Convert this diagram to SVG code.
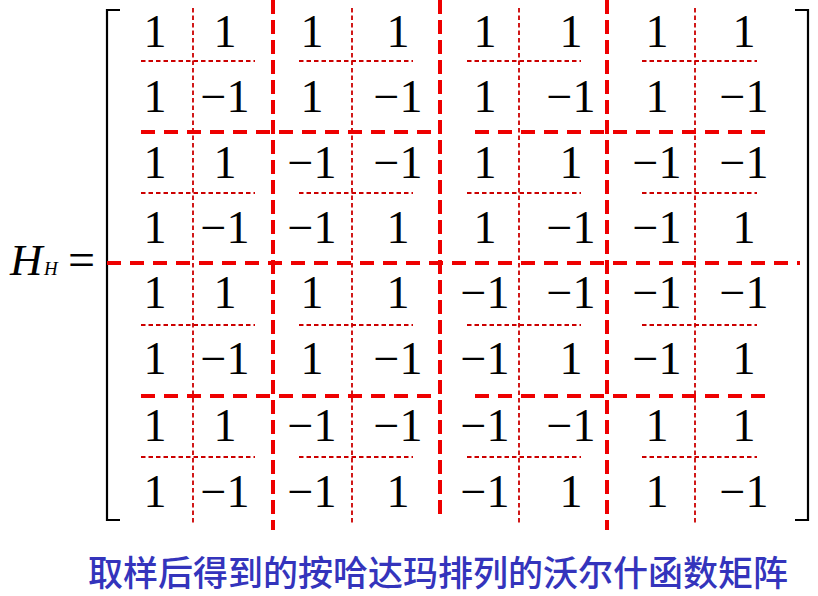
<svg xmlns="http://www.w3.org/2000/svg" width="818" height="596" viewBox="0 0 818 596">
<style>
.num{font-family:"Liberation Serif","Times New Roman",serif;font-size:46px;fill:#000;text-anchor:middle}
.thick{stroke:#ee0000;stroke-width:4;stroke-dasharray:14 9;fill:none}
.thickv{stroke:#ee0000;stroke-width:4;stroke-dasharray:14 6;fill:none}
.thin{stroke:#cc0000;stroke-width:1.8;stroke-dasharray:4.5 3;fill:none}
.br{stroke:#000;stroke-width:2.2;fill:none}
.lab{font-family:"Liberation Serif","Times New Roman",serif;font-style:italic;fill:#000}
.title{font-family:"Noto Sans CJK SC","Noto Sans",sans-serif;font-size:35px;font-weight:500;fill:#3434bc}
</style>
<rect width="818" height="596" fill="#fff"/>
<g id="label">
<text class="lab" x="10" y="275" font-size="45">H</text>
<text class="lab" x="44" y="275" font-size="19">H</text>
<text x="68" y="276" font-family="Liberation Serif,serif" font-size="48" fill="#000">=</text>
</g>
<g id="brackets">
<path class="br" d="M120,10 H107 V520 H120"/>
<path class="br" d="M795,10 H808 V520 H795"/>
</g>
<g id="grid">
<g id="thin-lines">
<path class="thin" d="M193,8 V525 M352,8 V525 M519,8 V525 M695,8 V525"/>
<path class="thin" d="M141,61 H255 M299,61 H413 M467,61 H581 M642,61 H757"/>
<path class="thin" d="M141,193 H255 M299,193 H413 M467,193 H581 M642,193 H757"/>
<path class="thin" d="M141,325 H255 M299,325 H413 M467,325 H581 M642,325 H757"/>
<path class="thin" d="M141,457 H255 M299,457 H413 M467,457 H581 M642,457 H757"/>
</g>
<g id="thick-lines">
<path class="thickv" d="M273,0 V530 M607,0 V530 M440,0 V518"/>
<path class="thick" d="M107,263 H800"/>
<path class="thick" d="M141,132 H432 M475,132 H765"/>
<path class="thick" d="M141,396 H432 M475,396 H765"/>
</g>
</g>
<g id="matrix">
<g id="row1"><text class="num" x="155" y="47">1</text><text class="num" x="225" y="47">1</text><text class="num" x="312" y="47">1</text><text class="num" x="398" y="47">1</text><text class="num" x="485" y="47">1</text><text class="num" x="571" y="47">1</text><text class="num" x="657" y="47">1</text><text class="num" x="744" y="47">1</text></g>
<g id="row2"><text class="num" x="155" y="112">1</text><text class="num" x="225" y="112">−1</text><text class="num" x="312" y="112">1</text><text class="num" x="398" y="112">−1</text><text class="num" x="485" y="112">1</text><text class="num" x="571" y="112">−1</text><text class="num" x="657" y="112">1</text><text class="num" x="744" y="112">−1</text></g>
<g id="row3"><text class="num" x="155" y="178">1</text><text class="num" x="225" y="178">1</text><text class="num" x="312" y="178">−1</text><text class="num" x="398" y="178">−1</text><text class="num" x="485" y="178">1</text><text class="num" x="571" y="178">1</text><text class="num" x="657" y="178">−1</text><text class="num" x="744" y="178">−1</text></g>
<g id="row4"><text class="num" x="155" y="243">1</text><text class="num" x="225" y="243">−1</text><text class="num" x="312" y="243">−1</text><text class="num" x="398" y="243">1</text><text class="num" x="485" y="243">1</text><text class="num" x="571" y="243">−1</text><text class="num" x="657" y="243">−1</text><text class="num" x="744" y="243">1</text></g>
<g id="row5"><text class="num" x="155" y="308">1</text><text class="num" x="225" y="308">1</text><text class="num" x="312" y="308">1</text><text class="num" x="398" y="308">1</text><text class="num" x="485" y="308">−1</text><text class="num" x="571" y="308">−1</text><text class="num" x="657" y="308">−1</text><text class="num" x="744" y="308">−1</text></g>
<g id="row6"><text class="num" x="155" y="374">1</text><text class="num" x="225" y="374">−1</text><text class="num" x="312" y="374">1</text><text class="num" x="398" y="374">−1</text><text class="num" x="485" y="374">−1</text><text class="num" x="571" y="374">1</text><text class="num" x="657" y="374">−1</text><text class="num" x="744" y="374">1</text></g>
<g id="row7"><text class="num" x="155" y="441">1</text><text class="num" x="225" y="441">1</text><text class="num" x="312" y="441">−1</text><text class="num" x="398" y="441">−1</text><text class="num" x="485" y="441">−1</text><text class="num" x="571" y="441">−1</text><text class="num" x="657" y="441">1</text><text class="num" x="744" y="441">1</text></g>
<g id="row8"><text class="num" x="155" y="507">1</text><text class="num" x="225" y="507">−1</text><text class="num" x="312" y="507">−1</text><text class="num" x="398" y="507">1</text><text class="num" x="485" y="507">−1</text><text class="num" x="571" y="507">1</text><text class="num" x="657" y="507">1</text><text class="num" x="744" y="507">−1</text></g>
</g>
<g id="caption">
<text class="title" x="88" y="586">取样后得到的按哈达玛排列的沃尔什函数矩阵</text>
</g>
</svg>
